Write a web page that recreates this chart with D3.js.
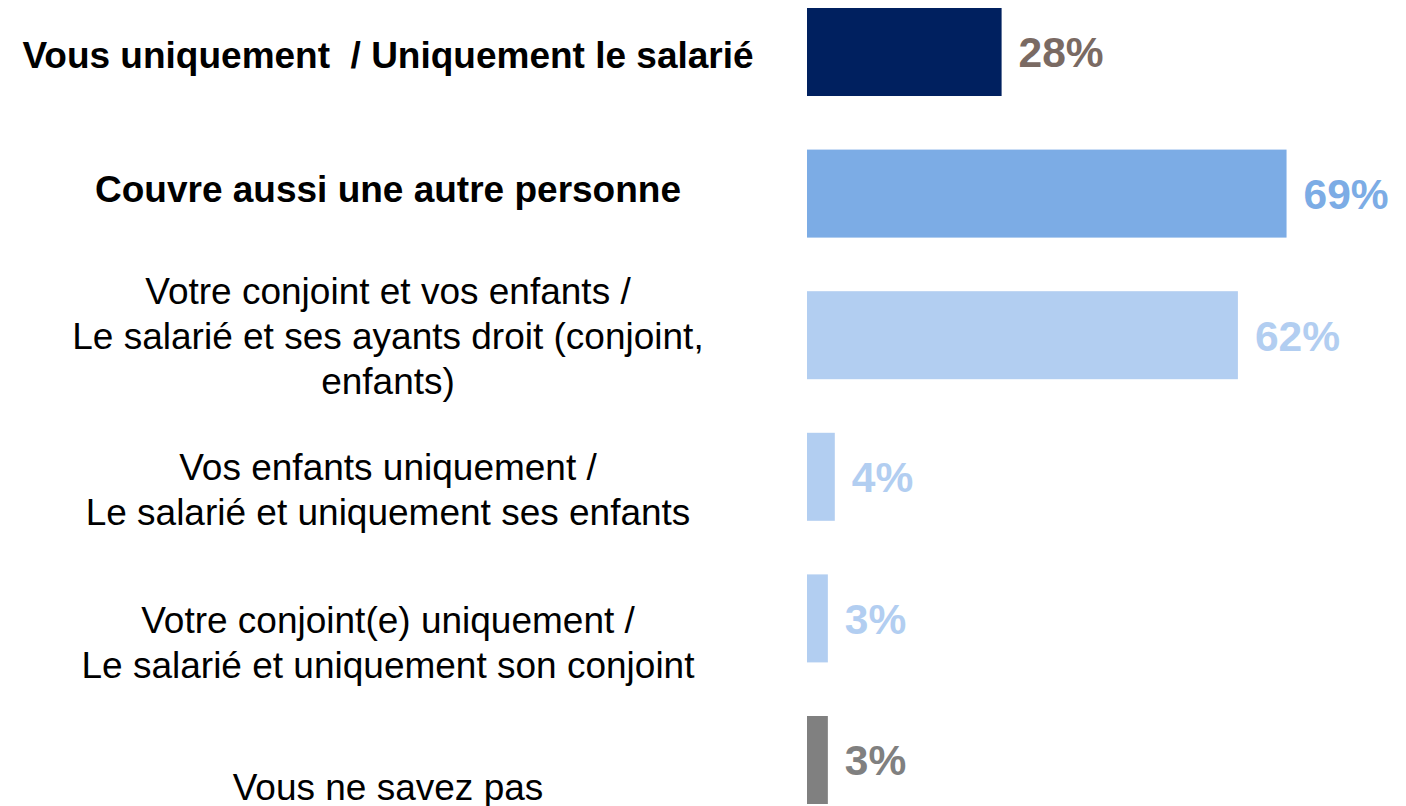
<!DOCTYPE html>
<html>
<head>
<meta charset="utf-8">
<script src="https://cdn.jsdelivr.net/npm/d3@7"></script>
<style>
  body { margin: 0; background: #fff; }
  svg { display: block; font-family: "Liberation Sans", Arial, sans-serif; }
</style>
</head>
<body>
<svg id="chart" width="1406" height="806"></svg>
<script>
// categories (each label line separated by \n)
var categories = [
  "Vous uniquement  / Uniquement le salarié",
  "Couvre aussi une autre personne",
  "Votre conjoint et vos enfants /\nLe salarié et ses ayants droit (conjoint,\nenfants)",
  "Vos enfants uniquement /\nLe salarié et uniquement ses enfants",
  "Votre conjoint(e) uniquement /\nLe salarié et uniquement son conjoint",
  "Vous ne savez pas"
];
var values = [28, 69, 62, 4, 3, 3];
var boldLabels = [true, true, false, false, false, false];
var barColors = ["#00205f", "#7cace5", "#b2cef1", "#b2cef1", "#b2cef1", "#808080"];
var valueColors = ["#7a6a63", "#7cace5", "#b2cef1", "#b2cef1", "#b2cef1", "#808080"];

// layout: vertical nudge of each category label from its bar centre
var labelShift = [3, -5, 0, 12, 24, 27];

var svg = d3.select("#chart");

var y = d3.scaleBand()
    .domain(categories)
    .range([8, 804])
    .paddingInner(0.3785)
    .paddingOuter(0);

var x = d3.scaleLinear()
    .domain([0, 100])
    .range([807, 1502]);

var rows = svg.selectAll("g.row")
    .data(categories)
    .enter()
    .append("g")
    .attr("class", "row");

rows.append("rect")
    .attr("x", x(0))
    .attr("y", function (d) { return y(d); })
    .attr("width", function (d, i) { return x(values[i]) - x(0); })
    .attr("height", y.bandwidth())
    .attr("fill", function (d, i) { return barColors[i]; });

rows.append("text")
    .attr("x", function (d, i) { return x(values[i]) + 17; })
    .attr("y", function (d) { return y(d) + y.bandwidth() / 2; })
    .attr("dy", "0.36em")
    .attr("font-size", 42.5)
    .attr("font-weight", "bold")
    .attr("fill", function (d, i) { return valueColors[i]; })
    .text(function (d, i) { return values[i] + "%"; });

// category labels, centred in the left column
var lineHeight = 45;
rows.append("text")
    .attr("text-anchor", "middle")
    .attr("font-size", 37)
    .attr("font-weight", function (d, i) { return boldLabels[i] ? "bold" : "normal"; })
    .attr("fill", "#000")
    .attr("xml:space", "preserve")
    .each(function (d, i) {
      var lines = d.split("\n");
      var cy = y(d) + y.bandwidth() / 2 + labelShift[i];
      var top = cy - (lines.length - 1) * lineHeight / 2;
      d3.select(this).selectAll("tspan")
          .data(lines)
          .enter()
          .append("tspan")
          .attr("x", 388)
          .attr("y", function (l, j) { return top + j * lineHeight; })
          .attr("dy", "0.36em")
          .text(function (l) { return l; });
    });
</script>
</body>
</html>
